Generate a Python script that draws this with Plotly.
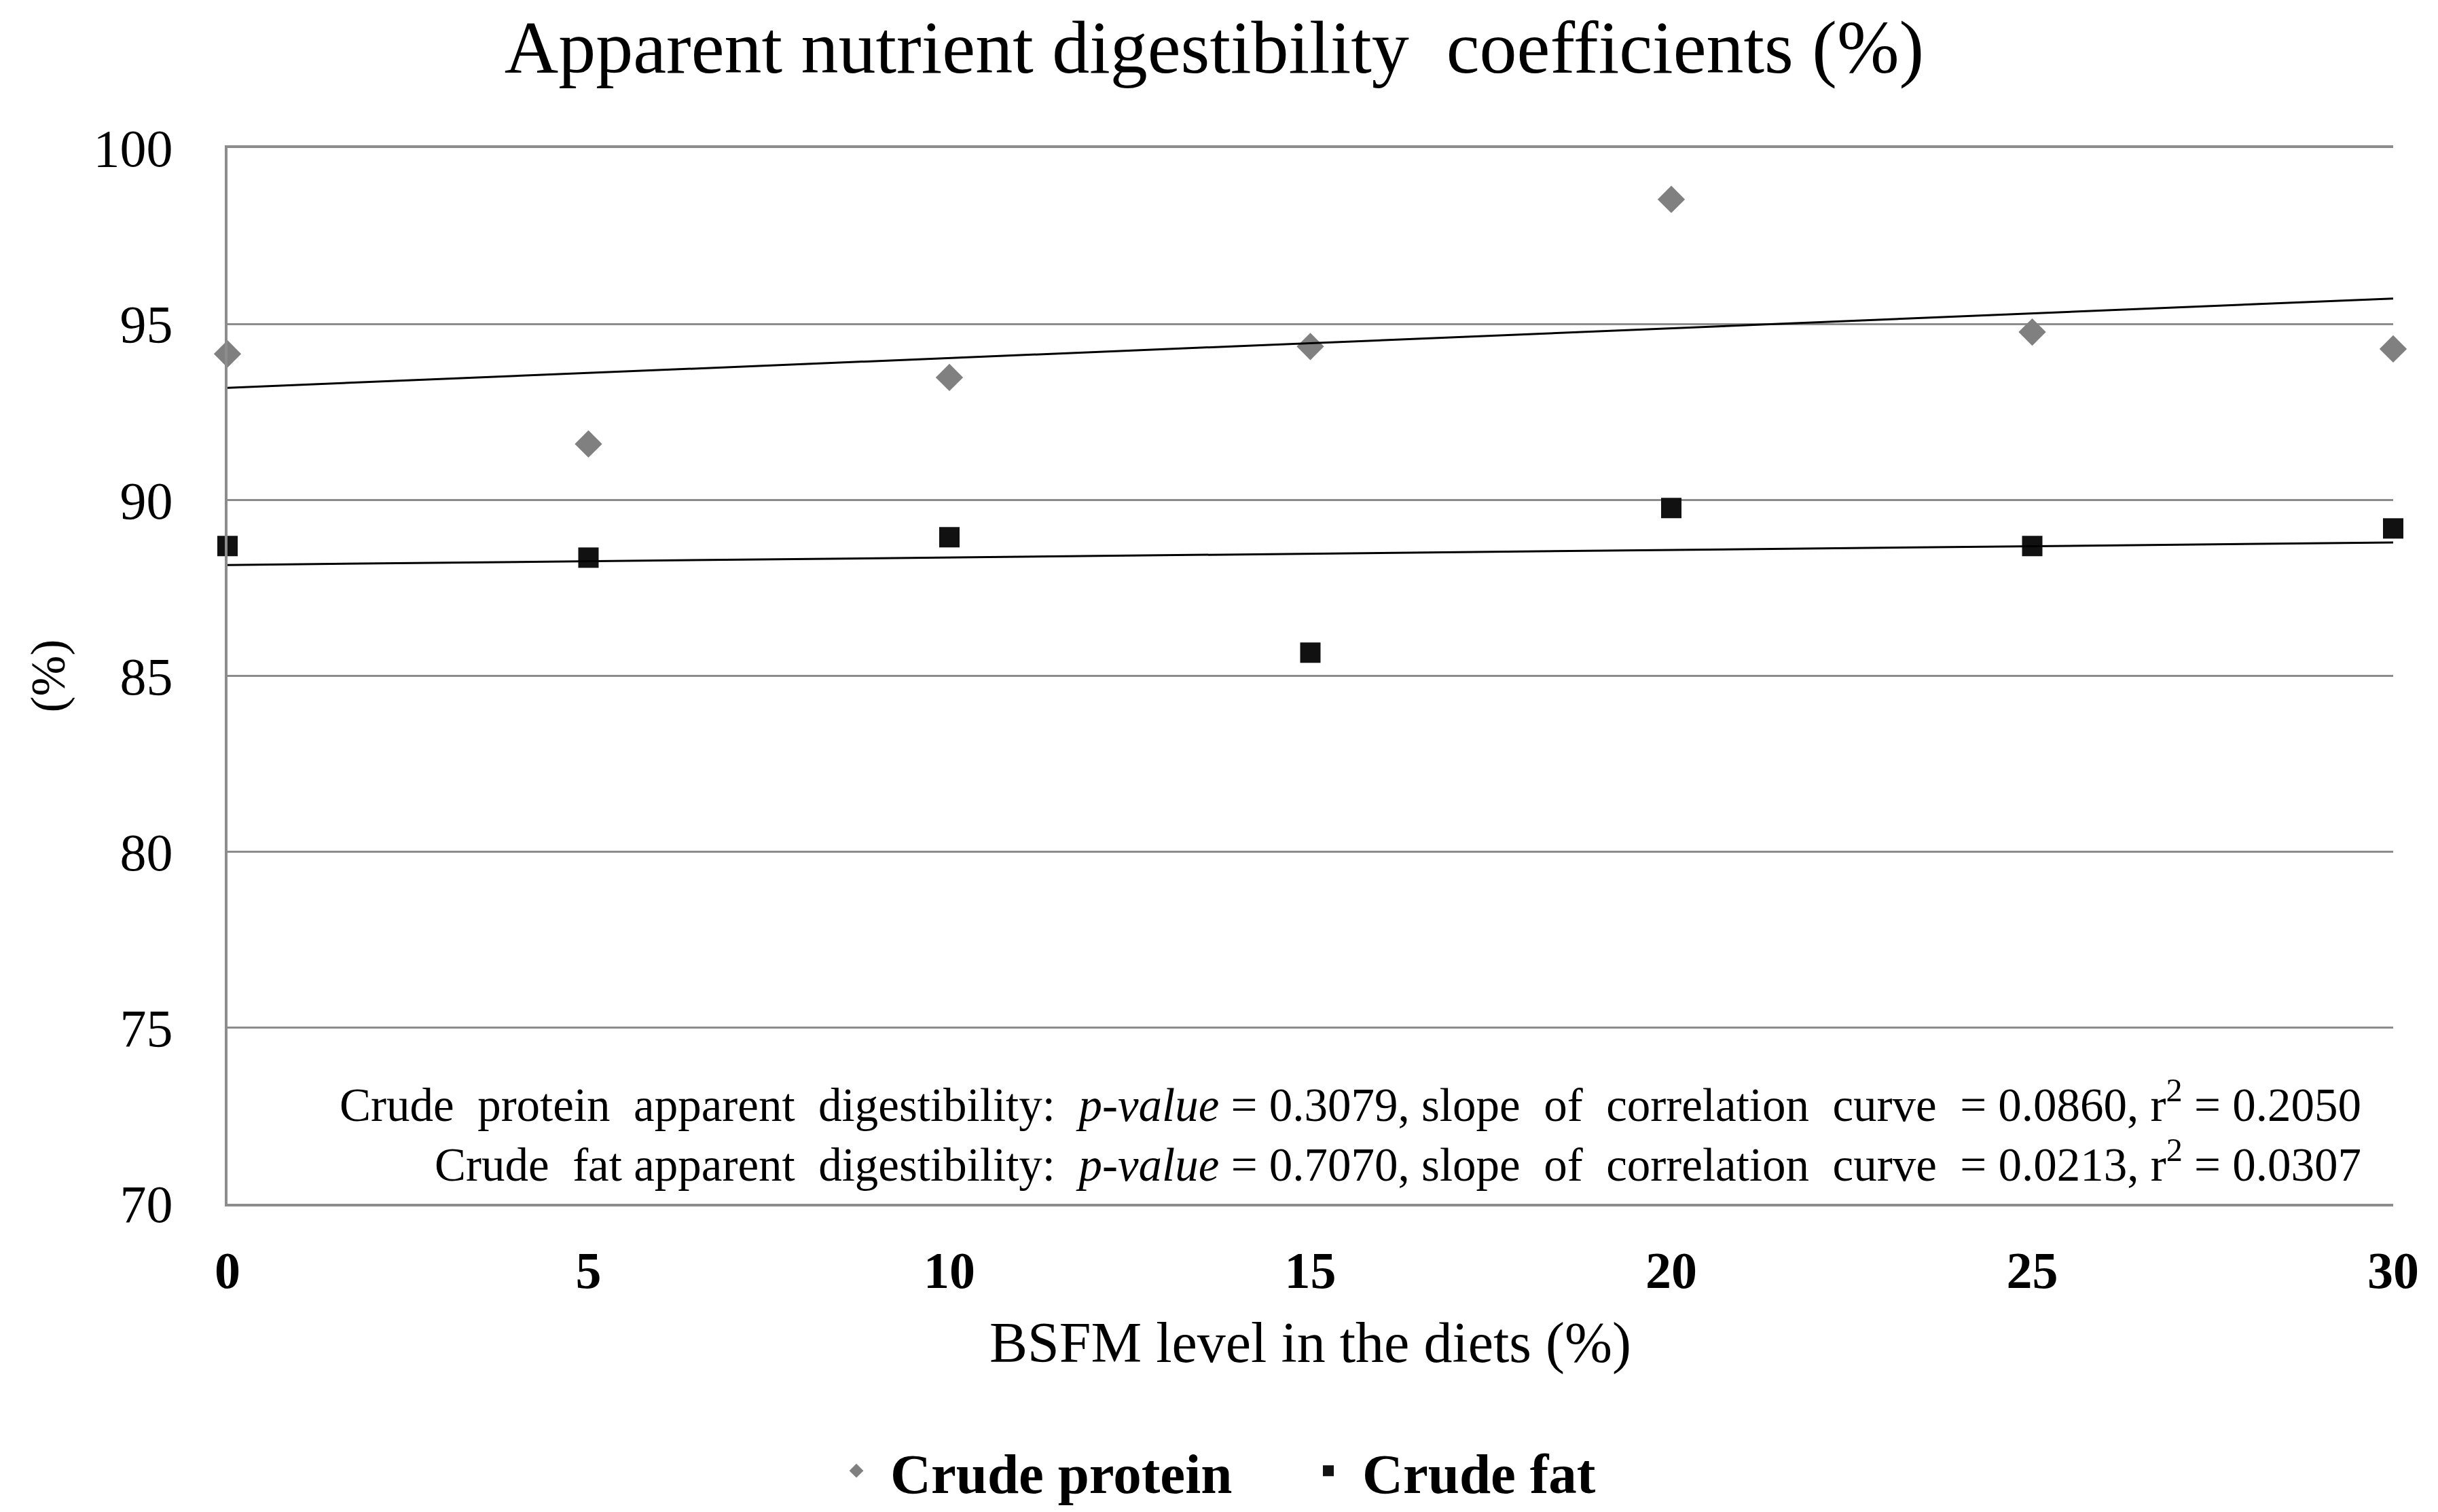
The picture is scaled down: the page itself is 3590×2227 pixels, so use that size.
import numpy as np
import plotly.graph_objects as go

# ---- data ----
bsfm_level = [0, 5, 10, 15, 20, 25, 30]
crude_protein = [94.15, 91.59, 93.48, 94.36, 98.54, 94.77, 94.29]
crude_fat = [88.69, 88.36, 88.94, 85.66, 89.77, 88.69, 89.19]
y_ticks = [70, 75, 80, 85, 90, 95, 100]
x_ticks = [0, 5, 10, 15, 20, 25, 30]
stats_protein = "Crude  protein  apparent  digestibility:  <i>p-value</i> = 0.3079, slope  of  correlation  curve  = 0.0860, r<sup>2</sup> = 0.2050"
stats_fat = "Crude  fat apparent  digestibility:  <i>p-value</i> = 0.7070, slope  of  correlation  curve  = 0.0213, r<sup>2</sup> = 0.0307"

SERIF = "Liberation Serif, Times New Roman, serif"

# page body has an 8px margin; compensate so the figure fills the window
W, H = 3582, 2219
L, R, T, B = 327, 66, 210, 454

x_arr = np.array(bsfm_level, dtype=float)
p_fit = np.polyfit(x_arr, crude_protein, 1)
f_fit = np.polyfit(x_arr, crude_fat, 1)
x_line = [min(bsfm_level), max(bsfm_level)]

fig = go.Figure()
fig.add_trace(go.Scatter(
    x=bsfm_level, y=crude_protein, mode="markers", name="Crude protein",
    marker=dict(symbol="diamond", size=31, color="#808080"),
    cliponaxis=False))
fig.add_trace(go.Scatter(
    x=bsfm_level, y=crude_fat, mode="markers", name="Crude fat",
    marker=dict(symbol="square", size=30, color="#111111"),
    cliponaxis=False))
fig.add_trace(go.Scatter(
    x=x_line, y=list(np.polyval(p_fit, x_line)), mode="lines",
    line=dict(color="black", width=3), showlegend=False, hoverinfo="skip"))
fig.add_trace(go.Scatter(
    x=x_line, y=list(np.polyval(f_fit, x_line)), mode="lines",
    line=dict(color="black", width=3), showlegend=False, hoverinfo="skip"))

fig.update_layout(
    width=W, height=H,
    margin=dict(l=L, r=R, t=T, b=B, autoexpand=False),
    paper_bgcolor="white", plot_bgcolor="white",
    font=dict(family=SERIF, color="black"),
    title=dict(text="Apparent nutrient digestibility  coefficients (%)",
               x=1780 / W, xanchor="center", y=1 - 60 / H, yanchor="middle",
               font=dict(size=110, family=SERIF, color="black")),
    xaxis=dict(range=[0, 30], tickvals=x_ticks, ticktext=[str(v) for v in x_ticks],
               showgrid=False, zeroline=False,
               showline=True, linecolor="#8c8c8c", linewidth=4, mirror=True,
               ticks="", ticklabelstandoff=29,
               tickfont=dict(size=76, family=SERIF, color="black", weight="bold"),
               title=dict(text="BSFM level in the diets (%)", standoff=36,
                          font=dict(size=84, family=SERIF, color="black")),
               automargin=False),
    yaxis=dict(range=[70, 100], tickvals=y_ticks,
               showgrid=True, gridcolor="#8c8c8c", gridwidth=3, zeroline=False,
               showline=True, linecolor="#8c8c8c", linewidth=4,
               ticks="", ticklabelstandoff=61,
               tickfont=dict(size=78, family=SERIF, color="black"),
               title=dict(text="(%)", standoff=19,
                          font=dict(size=72, family=SERIF, color="black")),
               automargin=True),
    legend=dict(orientation="h", x=0.2747, xanchor="left", y=-0.2529, yanchor="middle",
                font=dict(size=83, family=SERIF, color="black", weight="bold"),
                itemsizing="trace", itemwidth=90, entrywidth=590,
                bgcolor="rgba(0,0,0,0)"),
    showlegend=True,
)

fig.add_annotation(x=0.9858, y=0.0966, xref="paper", yref="paper",
                   xanchor="right", yanchor="middle", showarrow=False,
                   text=stats_protein, font=dict(size=69, family=SERIF, color="black"))
fig.add_annotation(x=0.9858, y=0.0400, xref="paper", yref="paper",
                   xanchor="right", yanchor="middle", showarrow=False,
                   text=stats_fat, font=dict(size=69, family=SERIF, color="black"))

fig.write_html("out.html")
